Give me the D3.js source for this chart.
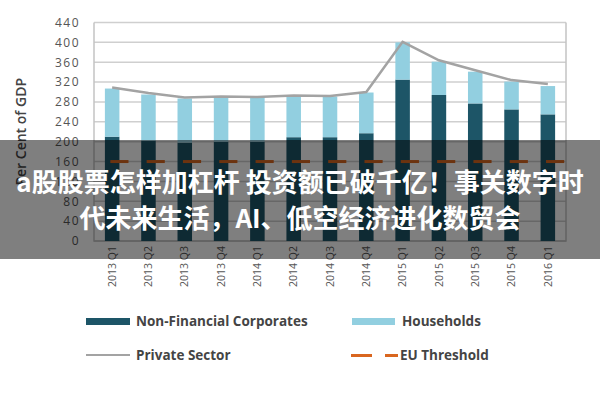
<!DOCTYPE html>
<html><head><meta charset="utf-8">
<script src="https://cdn.jsdelivr.net/npm/d3@7"></script>
<style>body{margin:0;background:#fff}svg{display:block}</style>
</head><body>
<svg id="c" width="600" height="400"></svg>
<script>
const categories = ["2013 Q1","2013 Q2","2013 Q3","2013 Q4","2014 Q1","2014 Q2","2014 Q3","2014 Q4","2015 Q1","2015 Q2","2015 Q3","2015 Q4","2016 Q1"];
const nonFinancial = [210, 202, 198, 200, 200, 209, 209, 217, 325, 294, 277, 265, 255];
const households = [97, 93, 89, 90, 90, 84, 82, 82, 75, 67, 64, 56, 57];
const privateSector = [309, 298, 289, 291, 290, 293, 292, 300, 401, 364, 344, 324, 316];
const euThreshold = 160;
const yTicks = [0, 40, 80, 120, 160, 200, 240, 280, 320, 360, 400, 440];
const legendLabels = ["Non-Financial Corporates", "Households", "Private Sector", "EU Threshold"];
const captionLines = ["a股股票怎样加杠杆 投资额已破千亿！事关数字时", "代未来生活，AI、低空经济进化数贸会"];

const svg = d3.select("#c");
const L = 94, R = 566, T = 22.5, B = 241;
const x = d3.scaleBand().domain(categories).range([L, R]).paddingInner(0.6).paddingOuter(0.3);
const y = d3.scaleLinear().domain([0, 440]).range([B, T]);
const cDark = "#1d5567", cLight = "#92cfe0", cLine = "#a3a3a3", cOrange = "#d9661f";

// gridlines
svg.append("g").selectAll("line").data(yTicks).join("line")
  .attr("x1", L).attr("x2", R).attr("y1", d => y(d)).attr("y2", d => y(d))
  .attr("stroke", "#cfcfcf").attr("stroke-width", 1.5);
// frame
svg.append("path")
  .attr("d", `M${L},${T} L${L},${B} L${R},${B} L${R},${T}`)
  .attr("fill", "none").attr("stroke", "#c4c4c4").attr("stroke-width", 1.5);

// y axis labels
const yAxis = d3.axisLeft(y).tickValues(yTicks).tickSize(0).tickPadding(0);
const gy = svg.append("g").attr("transform", `translate(80,0)`).call(yAxis);
gy.select(".domain").remove();
gy.selectAll("text").attr("font-family", "Open Sans, sans-serif").attr("font-size", 12)
  .attr("letter-spacing", "1.5px").attr("fill", "#555");

svg.append("text").attr("transform", `translate(26,${(T + B) / 2}) rotate(-90)`)
  .attr("text-anchor", "middle").attr("font-family", "Open Sans, sans-serif")
  .attr("font-weight", 600).attr("font-size", 14).attr("fill", "#444")
  .text("Per Cent of GDP");

// bars
const stackData = categories.map((c, i) => ({c, nfc: nonFinancial[i], hh: households[i]}));
const series = d3.stack().keys(["nfc", "hh"])(stackData);
const colors = {nfc: cDark, hh: cLight};
svg.append("g").selectAll("g").data(series).join("g").attr("fill", s => colors[s.key])
  .selectAll("rect").data(s => s).join("rect")
  .attr("x", d => x(d.data.c)).attr("width", x.bandwidth())
  .attr("y", d => y(d[1])).attr("height", d => y(d[0]) - y(d[1]));

// private sector line
svg.append("path").datum(privateSector)
  .attr("d", d3.line().x((d, i) => x(categories[i]) + x.bandwidth() / 2).y(d => y(d)))
  .attr("fill", "none").attr("stroke", cLine).attr("stroke-width", 2.5);

// EU threshold dashes
svg.append("g").selectAll("line").data(categories).join("line")
  .attr("x1", c => x(c) + x.step() * 0.15).attr("x2", c => x(c) + x.step() * 0.65)
  .attr("y1", y(euThreshold)).attr("y2", y(euThreshold))
  .attr("stroke", cOrange).attr("stroke-width", 3);

// x labels
const gx = svg.append("g").attr("transform", `translate(0,${B})`)
  .call(d3.axisBottom(x).tickSize(0).tickPadding(0));
gx.select(".domain").remove();
gx.selectAll("text").attr("transform", "rotate(-90)").attr("text-anchor", "end")
  .attr("x", -5).attr("y", 0).attr("dy", "0.35em")
  .attr("font-family", "Open Sans, sans-serif").attr("font-size", 10.5).attr("fill", "#555");

// legend
const lg = svg.append("g").attr("font-family", "Open Sans, sans-serif").attr("font-weight", 700)
  .attr("font-size", 13.5).attr("fill", "#444");
lg.append("rect").attr("x", 86).attr("y", 318).attr("width", 44).attr("height", 7).attr("fill", cDark);
lg.append("text").attr("x", 136).attr("y", 321.5).attr("dy", "0.35em").text(legendLabels[0]);
lg.append("rect").attr("x", 352).attr("y", 318).attr("width", 43).attr("height", 7).attr("fill", cLight);
lg.append("text").attr("x", 402).attr("y", 321.5).attr("dy", "0.35em").text(legendLabels[1]);
lg.append("line").attr("x1", 86).attr("x2", 130).attr("y1", 355).attr("y2", 355).attr("stroke", cLine).attr("stroke-width", 2);
lg.append("text").attr("x", 136).attr("y", 355).attr("dy", "0.35em").text(legendLabels[2]);
lg.append("line").attr("x1", 351).attr("x2", 372).attr("y1", 355.5).attr("y2", 355.5).attr("stroke", cOrange).attr("stroke-width", 3);
lg.append("line").attr("x1", 385).attr("x2", 398).attr("y1", 355.5).attr("y2", 355.5).attr("stroke", cOrange).attr("stroke-width", 3);
lg.append("text").attr("x", 400).attr("y", 355).attr("dy", "0.35em").text(legendLabels[3]);

// overlay band with caption
svg.append("rect").attr("x", 0).attr("y", 140).attr("width", 600).attr("height", 119).attr("fill", "rgba(0,0,0,0.5)");
svg.append("g").selectAll("text").data(captionLines).join("text")
  .attr("x", 300).attr("y", (d, i) => 183 + i * 36).attr("dy", "0.36em")
  .attr("text-anchor", "middle").attr("fill", "#fff").attr("font-weight", 700)
  .attr("font-size", 26).attr("font-family", "Noto Sans CJK SC, Noto Sans, sans-serif")
  .text(d => d);
</script>
</body></html>
